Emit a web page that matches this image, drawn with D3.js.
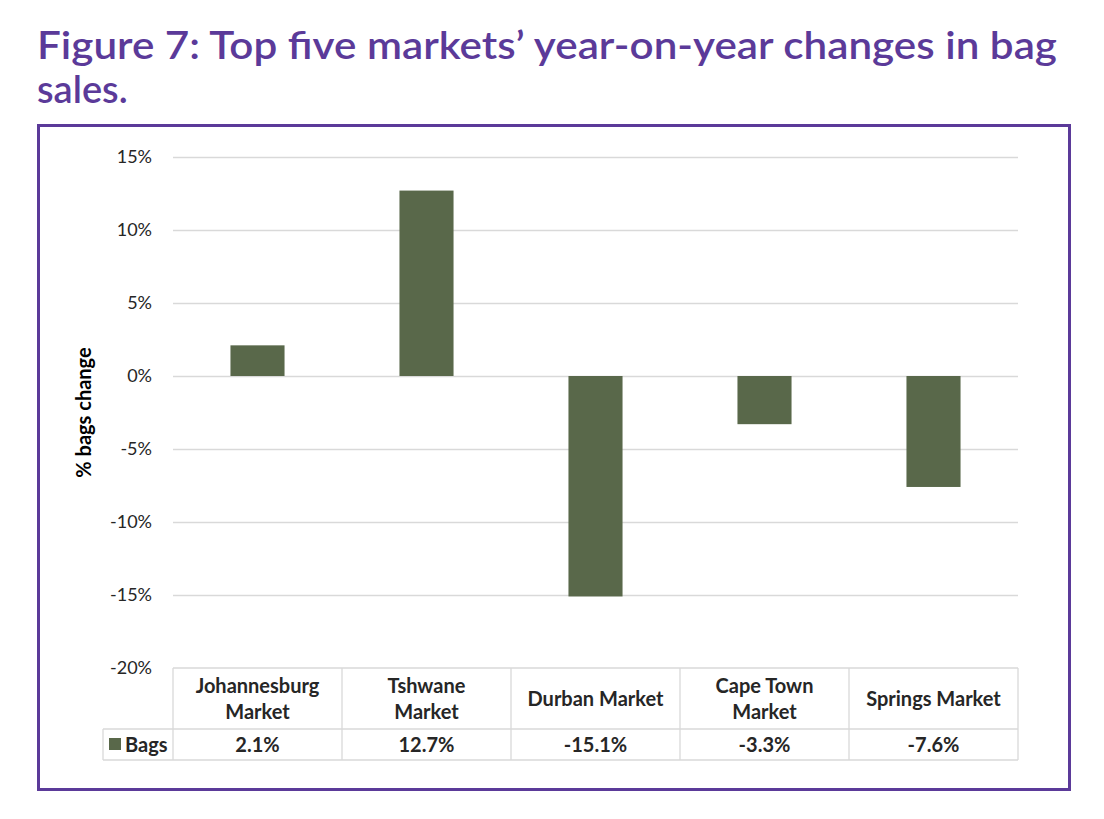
<!DOCTYPE html>
<html>
<head>
<meta charset="utf-8">
<script src="https://cdn.jsdelivr.net/npm/d3@7"></script>
<style>
  body { margin: 0; background: #fff; }
  svg { display: block; }
</style>
</head>
<body>
<svg id="chart" width="1104" height="819"></svg>
<script>
// ==========================================
// DATA
// ==========================================
const markets = ['Johannesburg Market', 'Tshwane Market', 'Durban Market', 'Cape Town Market', 'Springs Market'];
// header lines as wrapped in the table
const marketLines = [['Johannesburg', 'Market'], ['Tshwane', 'Market'], ['Durban Market'], ['Cape Town', 'Market'], ['Springs Market']];
const bags = [2.1, 12.7, -15.1, -3.3, -7.6];
const yTicks = [15, 10, 5, 0, -5, -10, -15, -20];
const seriesName = 'Bags';

const purple = '#5b3a99';
const barColor = '#59684a';
const gridColor = '#d9d9d9';
const tableFont = 'Lato, "Open Sans", sans-serif';
const fmtPct = v => d3.format('.1f')(v).replace('\u2212', '-') + '%';

const svg = d3.select('#chart');

// ==========================================
// TITLE & FRAME
// ==========================================
const titleLines = ['Figure 7: Top five markets’ year-on-year changes in bag', 'sales.'];
const title = svg.append('g')
  .attr('font-family', 'Lato, sans-serif')
  .attr('font-weight', 600)
  .attr('font-size', 38)
  .attr('fill', purple);
title.selectAll('text')
  .data(titleLines)
  .join('text')
  .attr('x', 37)
  .attr('y', (d, i) => 59 + i * 44)
  .text(d => d);
// stretch first line to the reference width
const first = title.select('text').node();
first.setAttribute('textLength', 1020);
first.setAttribute('lengthAdjust', 'spacingAndGlyphs');

svg.append('rect')
  .attr('x', 38.5).attr('y', 125.5)
  .attr('width', 1031).attr('height', 664)
  .attr('fill', 'none')
  .attr('stroke', purple)
  .attr('stroke-width', 3);

// ==========================================
// SCALES
// ==========================================
const x = d3.scaleBand().domain(markets).range([173, 1018]).paddingInner(0).paddingOuter(0);
const y = d3.scaleLinear().domain([-20, 15]).range([668, 157]);
const barW = x.bandwidth() * 0.32;

// gridlines
svg.append('g')
  .selectAll('line')
  .data(yTicks.filter(t => t > -20))
  .join('line')
  .attr('x1', x.range()[0]).attr('x2', x.range()[1])
  .attr('y1', d => Math.round(y(d)) + 0.5).attr('y2', d => Math.round(y(d)) + 0.5)
  .attr('stroke', gridColor)
  .attr('stroke-width', 1.3);

// y axis labels
const yAxis = svg.append('g')
  .attr('transform', 'translate(173,0)')
  .call(d3.axisLeft(y).tickValues(yTicks).tickFormat(d => d + '%').tickSize(0).tickPadding(21));
yAxis.select('.domain').remove();
yAxis.selectAll('text')
  .attr('font-family', tableFont)
  .attr('font-size', 18)
  .attr('fill', '#262626');

// y axis title
svg.append('text')
  .attr('transform', `translate(91,${y(-2.5)}) rotate(-90)`)
  .attr('text-anchor', 'middle')
  .attr('font-family', tableFont)
  .attr('font-weight', 700)
  .attr('font-size', 20)
  .attr('fill', '#000')
  .text('% bags change');

// bars
svg.append('g')
  .selectAll('rect')
  .data(markets)
  .join('rect')
  .attr('x', d => x(d) + x.bandwidth() / 2 - barW / 2)
  .attr('width', barW)
  .attr('y', (d, i) => y(Math.max(0, bags[i])))
  .attr('height', (d, i) => Math.abs(y(bags[i]) - y(0)))
  .attr('fill', barColor);

// ==========================================
// DATA TABLE
// ==========================================
const headTop = 668, headBot = 729, rowBot = 760, legendLeft = 103;
const table = svg.append('g').attr('stroke', gridColor).attr('stroke-width', 1.3);
// horizontal lines
table.append('line').attr('x1', x.range()[0]).attr('x2', x.range()[1]).attr('y1', headTop).attr('y2', headTop);
table.append('line').attr('x1', legendLeft).attr('x2', x.range()[1]).attr('y1', headBot).attr('y2', headBot);
table.append('line').attr('x1', legendLeft).attr('x2', x.range()[1]).attr('y1', rowBot).attr('y2', rowBot);
// vertical lines
table.selectAll('line.v')
  .data(markets.map(m => x(m)).concat([x.range()[1]]))
  .join('line')
  .attr('class', 'v')
  .attr('x1', d => d).attr('x2', d => d)
  .attr('y1', headTop).attr('y2', rowBot);
table.append('line').attr('x1', legendLeft).attr('x2', legendLeft).attr('y1', headBot).attr('y2', rowBot);

const textG = svg.append('g')
  .attr('font-family', tableFont)
  .attr('font-weight', 700)
  .attr('font-size', 20)
  .attr('fill', '#262626')
  .attr('text-anchor', 'middle');

markets.forEach((m, i) => {
  const lines = marketLines[i];
  const cy = (headTop + headBot) / 2;
  lines.forEach((ln, j) => {
    textG.append('text')
      .attr('x', x(m) + x.bandwidth() / 2)
      .attr('y', cy + (j - (lines.length - 1) / 2) * 26 + 7)
      .text(ln);
  });
  textG.append('text')
    .attr('x', x(m) + x.bandwidth() / 2)
    .attr('y', (headBot + rowBot) / 2 + 7)
    .text(fmtPct(bags[i]));
});

// legend key
svg.append('rect')
  .attr('x', 109).attr('y', 738)
  .attr('width', 12).attr('height', 12)
  .attr('fill', barColor);
textG.append('text')
  .attr('x', 125)
  .attr('y', (headBot + rowBot) / 2 + 7)
  .attr('text-anchor', 'start')
  .text(seriesName);
</script>
</body>
</html>
